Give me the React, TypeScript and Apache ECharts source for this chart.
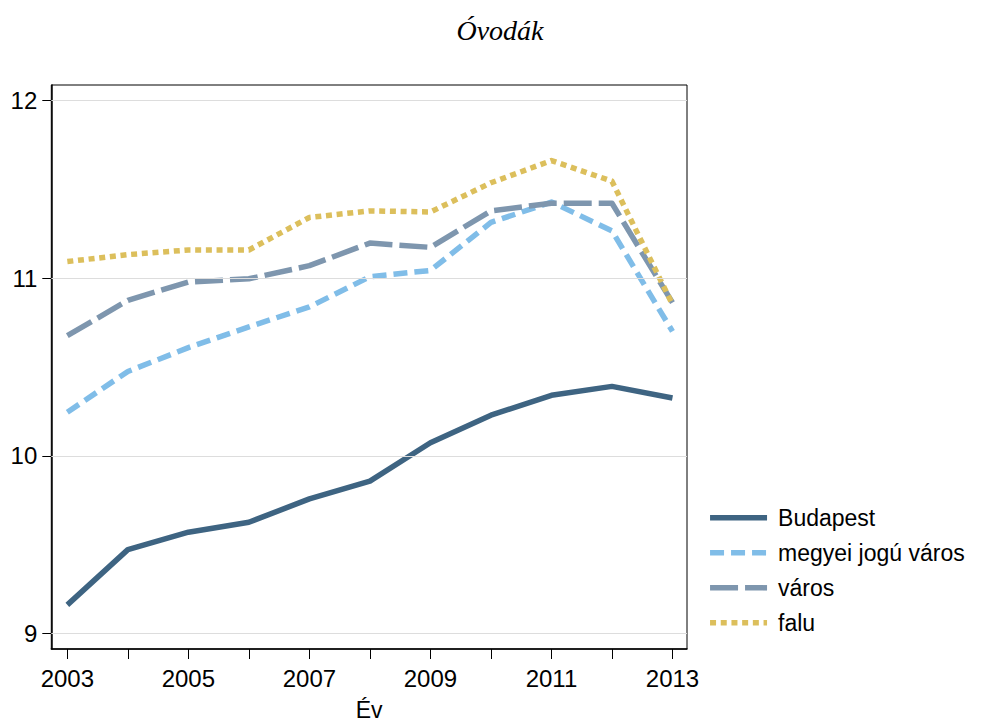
import React, { useEffect, useRef } from "react";
import * as echarts from "echarts";

const years = [2003, 2004, 2005, 2006, 2007, 2008, 2009, 2010, 2011, 2012, 2013];
const budapest = [9.162, 9.473, 9.571, 9.627, 9.758, 9.858, 10.074, 10.229, 10.341, 10.391, 10.326];
const megyeiJoguVaros = [10.246, 10.475, 10.609, 10.726, 10.838, 11.008, 11.043, 11.313, 11.428, 11.266, 10.7];
const varos = [10.676, 10.875, 10.978, 10.996, 11.07, 11.197, 11.173, 11.378, 11.421, 11.421, 10.862];
const falu = [11.093, 11.132, 11.158, 11.158, 11.341, 11.378, 11.372, 11.536, 11.661, 11.545, 10.852];
const xLabelYears = [2003, 2005, 2007, 2009, 2011, 2013];
const yTicks = [9, 10, 11, 12];
const seriesNames = ["Budapest", "megyei jogú város", "város", "falu"];

const FONT = "'Liberation Sans', Arial, sans-serif";

export default function App() {
  const ref = useRef<HTMLDivElement>(null);
  useEffect(() => {
    if (!ref.current) return;
    const chart = echarts.init(ref.current, null, { renderer: "svg" });
    const pairs = (vals: number[]) => years.map((y, i) => [y, vals[i]]);
    const lineSeries = (name: string, vals: number[], color: string, type: any) => ({
      name,
      type: "line",
      data: pairs(vals),
      showSymbol: false,
      symbol: "none",
      z: 3,
      lineStyle: { color, width: 5.5, type, cap: "butt", join: "round" },
      itemStyle: { color },
    });
    chart.setOption({
      animation: false,
      backgroundColor: "#ffffff",
      graphic: [
        {
          type: "text",
          x: 500,
          y: 30,
          style: {
            text: "Óvodák",
            font: "italic 28px 'Liberation Serif', 'Times New Roman', serif",
            fill: "#000",
            textAlign: "center",
            textVerticalAlign: "middle",
          },
        },
      ],
      grid: {
        left: 51.3,
        right: 296,
        top: 85,
        bottom: 73.3,
        show: true,
        borderColor: "#000",
        borderWidth: 1,
        backgroundColor: "transparent",
      },
      legend: {
        data: seriesNames,
        orient: "vertical",
        left: 707.3,
        top: 506.3,
        padding: 0,
        itemWidth: 57,
        itemHeight: 20,
        itemGap: 12,
        itemStyle: { opacity: 0 },
        lineStyle: { width: 5.5 },
        textStyle: {
          fontFamily: FONT,
          fontSize: 23,
          lineHeight: 20,
          color: "#000",
          padding: [0, 0, 0, 6],
        },
      },
      xAxis: {
        type: "value",
        min: 2002.735,
        max: 2013.24,
        name: "Év",
        nameLocation: "middle",
        nameGap: 49,
        nameTextStyle: { fontFamily: FONT, fontSize: 23, color: "#000" },
        axisLine: { show: true, onZero: false, lineStyle: { color: "#000", width: 1.5 } },
        axisTick: { show: true, length: 10, customValues: years, lineStyle: { color: "#000", width: 1 } },
        axisLabel: {
          customValues: xLabelYears,
          margin: 17,
          fontFamily: FONT,
          fontSize: 24,
          color: "#000",
          formatter: (v: number) => String(Math.round(v)),
        },
        splitLine: { show: false },
      },
      yAxis: {
        type: "value",
        min: 8.914,
        max: 12.086,
        axisLine: { show: true, onZero: false, lineStyle: { color: "#000", width: 1.5 } },
        axisTick: { show: true, length: 9, customValues: yTicks, lineStyle: { color: "#000", width: 1 } },
        axisLabel: {
          customValues: yTicks,
          margin: 14,
          fontFamily: FONT,
          fontSize: 24,
          color: "#000",
          formatter: (v: number) => String(Math.round(v)),
        },
        splitLine: { show: false },
      },
      series: [
        {
          name: "gridlines",
          type: "line",
          data: [],
          z: 1,
          silent: true,
          markLine: {
            silent: true,
            symbol: "none",
            label: { show: false },
            lineStyle: { color: "#dddddd", width: 1, type: "solid" },
            data: yTicks.map((v) => ({ yAxis: v })),
          },
        },
        lineSeries("Budapest", budapest, "#3e6482", "solid"),
        lineSeries("megyei jogú város", megyeiJoguVaros, "#80bde8", [14, 7]),
        lineSeries("város", varos, "#7e96ae", [28, 7]),
        lineSeries("falu", falu, "#dcbf5c", [6, 4.7]),
      ],
    });
    return () => chart.dispose();
  }, []);
  return (
    <div
      ref={ref}
      style={{ position: "absolute", left: 0, top: 0, width: 983, height: 726 }}
    />
  );
}
